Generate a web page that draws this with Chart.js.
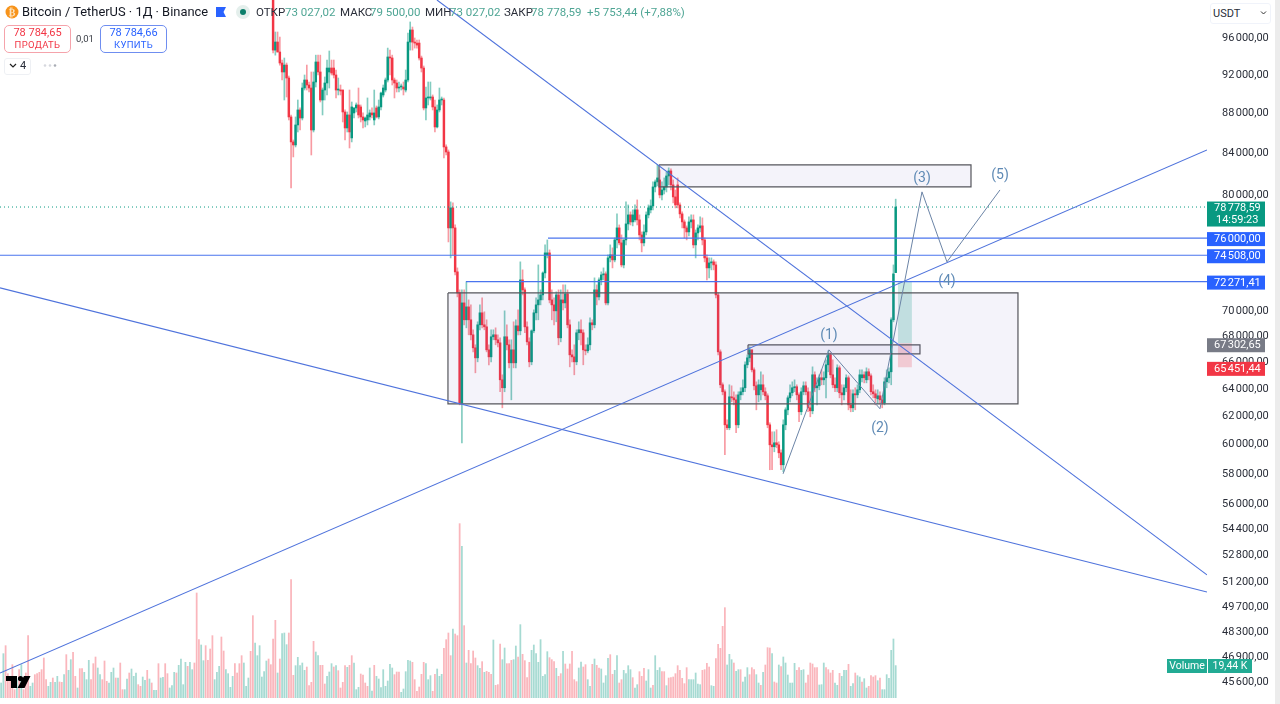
<!DOCTYPE html>
<html lang="ru"><head><meta charset="utf-8">
<script src="https://cdn.jsdelivr.net/npm/chart.js@4/dist/chart.umd.js"></script>
<style>
html,body{margin:0;padding:0;background:#fff;overflow:hidden;width:1280px;height:704px}
body{position:relative;font-family:Roboto,"Noto Sans",sans-serif;color:#131722}
canvas{position:absolute;left:0;top:0;display:block}
.t{position:absolute;white-space:nowrap;line-height:1}
.g{color:#4ea594}.k{color:#2a2e39}
.btn{position:absolute;top:25px;width:65px;border:1px solid;border-radius:5px;background:#fff;text-align:center;font-size:11px;line-height:12px;padding-top:1px;box-sizing:content-box;height:25px}
.btn span{display:block;font-size:9.5px;letter-spacing:.3px}
</style></head><body>
<canvas id="c" width="1280" height="704" style="width:1280px;height:704px"></canvas>
<div style="position:absolute;left:1275px;top:0;width:5px;height:704px;background:#ececec"></div>
<div style="position:absolute;left:1210px;top:3px;width:59px;height:19px;border:1px solid #f0f3fa;border-radius:3px;background:#fff"></div>
<div class="t" style="left:1213px;top:8px;font-size:11px;color:#2a2e39">USDT</div>
<svg style="position:absolute;left:1260px;top:10px" width="7" height="6"><path d="M1 1.5 L3.5 4 L6 1.5" fill="none" stroke="#333" stroke-width="1"/></svg>
<svg style="position:absolute;left:5px;top:5px" width="14" height="14"><circle cx="7" cy="7" r="6.5" fill="#f7931a"/><text x="7" y="10.5" font-size="10" font-weight="700" text-anchor="middle" fill="#fde3bd" font-family="Roboto">₿</text></svg>
<div class="t" style="left:22px;top:6px;font-size:12.9px;color:#131722">Bitcoin / TetherUS · 1Д · Binance</div>
<svg style="position:absolute;left:216px;top:7px" width="11" height="11"><path d="M0 0H10L7.5 5L10 10H0Z" fill="#2962ff"/></svg>
<svg style="position:absolute;left:236px;top:5px" width="14" height="14"><circle cx="7" cy="7" r="7" fill="#e4efec"/><circle cx="7" cy="7" r="3" fill="#0b7f6b"/></svg>
<div class="t k" style="left:256px;top:7px;font-size:11.5px">ОТКР</div>
<div class="t g" style="left:285px;top:7px;font-size:11.5px">73 027,02</div>
<div class="t k" style="left:340px;top:7px;font-size:11.5px">МАКС</div>
<div class="t g" style="left:370px;top:7px;font-size:11.5px">79 500,00</div>
<div class="t k" style="left:425px;top:7px;font-size:11.5px">МИН</div>
<div class="t g" style="left:450px;top:7px;font-size:11.5px">73 027,02</div>
<div class="t k" style="left:504px;top:7px;font-size:11.5px">ЗАКР</div>
<div class="t g" style="left:531px;top:7px;font-size:11.5px">78 778,59</div>
<div class="t g" style="left:587px;top:7px;font-size:11.5px">+5 753,44 (+7,88%)</div>
<div class="btn" style="left:4px;border-color:#f5a3ab;color:#f23645">78 784,65<span>ПРОДАТЬ</span></div>
<div class="t" style="left:76px;top:34px;font-size:9.5px;color:#3c4048">0,01</div>
<div class="btn" style="left:100px;border-color:#6f8ef0;color:#2962ff">78 784,66<span>КУПИТЬ</span></div>
<div style="position:absolute;left:4px;top:58px;width:25px;height:15px;border:1px solid #eef0f4;border-radius:3px"></div>
<svg style="position:absolute;left:9px;top:63px" width="8" height="6"><path d="M1 1 L4 4 L7 1" fill="none" stroke="#222" stroke-width="1.2"/></svg>
<div class="t" style="left:20px;top:60px;font-size:11px;color:#2a2e39">4</div>
<svg style="position:absolute;left:42px;top:63px" width="16" height="5"><circle cx="3" cy="2.5" r="1.3" fill="#d6d8de"/><circle cx="8" cy="2.5" r="1.3" fill="#d6d8de"/><circle cx="13" cy="2.5" r="1.3" fill="#a9acb5"/></svg>
<svg style="position:absolute;left:6px;top:676px" width="25" height="13"><path d="M0 0H11V12H5V5H0Z M18 0H24.5L18.5 12H11.5Z" fill="#000"/><circle cx="14.5" cy="2.6" r="2.6" fill="#000"/></svg>
<script>
const firstCandle = 121;
const opens = [
101000,94450,95335,94240,93050,92090,92830,91450,87425,84935,84640,86620,88135,87320,90400,91240,90715,90400,86120,91030,
93160,92090,89155,90190,90925,92090,92510,92510,91770,90190,90190,90190,87930,86320,87625,85330,87830,88340,88645,88440,
87425,87020,87120,87425,87830,87120,88340,87425,88440,89675,90190,91240,93700,93590,91240,90925,90400,90505,90505,90190,
91240,95335,96670,95335,95220,95220,93590,92510,88340,89365,89365,89465,88440,86420,88135,89155,89155,84445,83955,
76900,78700,76900,73090,71335,62820,70515,69150,70190,69150,67960,66945,66175,68750,69710,68750,68590,66790,66250,67805,
67960,67570,67335,64515,63925,67805,67180,65795,66790,65795,68670,68275,72415,71585,68590,67410,65870,68275,69710,70355,
70760,71170,73000,74540,74710,70760,70355,69870,71170,67725,70760,70515,71255,68750,66405,66250,65870,68120,68355,68120,
66790,66715,67180,68910,68750,71585,71005,72415,72835,72920,70515,74280,74540,74110,75840,76900,75580,73680,75840,77255,
78065,77435,77615,78520,77615,76280,75580,76545,78065,78520,78880,80630,81100,81285,79890,80350,80630,81660,82135,80820,
79705,80820,78970,78155,77435,76900,76545,77435,77615,75405,76455,76900,77080,75840,74280,73425,73850,73940,73680,71170,
66635,64145,63630,61245,61035,63260,63185,63040,61245,63405,63630,63925,65645,66175,66790,65265,64070,63405,63775,64145,
63630,63335,61245,59845,59710,59985,59845,59295,58480,61245,62315,63185,63555,63925,64000,63405,62175,63630,64070,63630,
62460,62245,64890,63925,64070,64665,64515,64665,65645,66405,64890,64145,63925,65415,63555,63405,63925,64665,62675,62460,
63480,63405,63775,64665,64890,64515,65115,64815,63630,63480,63115,63335,63040,62820,64365,64665,65115,69150,73027.02];
const highs = [
101500,96445,96445,95890,93370,93590,93050,91660,87625,85130,87425,89155,88340,90925,91770,92830,91030,92090,92090,93900,
93900,93900,90400,91560,93370,94350,93370,93370,92300,91450,90715,90190,88135,87930,90190,88950,88340,88850,90400,88645,
87830,87425,89365,88135,88340,90190,88540,89155,89985,90715,91450,94670,94450,93900,91450,91240,91030,90820,91030,92300,
96330,97570,97000,95780,95560,95560,93800,92730,90505,91030,91030,89675,89155,88645,90400,89465,89365,84640,84150,
79250,79155,77165,73425,71585,71585,71585,72250,70760,70355,68355,67180,68990,70355,70925,69790,69150,67180,68355,68355,
68510,67960,67725,64890,69870,68750,67570,67570,68990,69150,69950,73940,73260,71750,68990,67725,68355,69950,70925,73680,
71585,73090,75405,75840,74970,71585,70925,71420,71585,71585,72000,72000,71585,69150,66790,67180,68355,68990,69150,68355,
67180,67725,69310,69150,72585,72000,72585,73090,73425,73090,74540,75405,75145,76015,78155,77165,76280,75840,79250,78970,
78335,78520,78970,79430,78065,76545,77165,78335,78970,79430,81100,81285,82710,82230,81100,81475,82040,82425,82330,81285,
80350,81475,79155,78335,77615,77080,77885,78065,78065,76720,77165,77885,77795,76015,74540,74280,74280,74110,73940,71335,
66790,64290,63775,61600,64145,64070,63630,63405,63630,63925,64515,65870,66405,67025,66790,65415,64365,64515,65115,64890,
63925,63480,61390,60755,60755,60895,60055,59505,61600,62460,63335,64145,64365,64515,64145,63555,63925,64365,64365,63925,
63630,65490,65115,64665,64890,65265,65115,66025,66715,66560,66025,64665,65645,65565,64145,64145,64890,64815,63775,63775,
63925,64145,65265,65265,65115,65415,65340,64965,64145,63775,63775,63630,63335,64665,65265,65415,69310,73680,79500];
const lows = [
94130,93900,94240,92830,91240,89155,89465,87120,80540,83475,84445,85920,86120,87120,90190,90190,89985,83665,85920,90505,
91770,88950,87625,89155,89675,90400,91770,91450,89365,89675,89675,86920,85130,85920,84345,84935,87320,87930,87320,86920,
86320,86420,86620,87120,87320,86620,87320,87220,88135,89465,89985,91030,91770,90715,89365,89985,89985,90190,89675,89985,
91030,94450,94450,94670,94670,93370,92090,88135,87120,88645,89155,88135,85920,86320,87930,88645,83380,83665,75665,
74280,74540,72835,71005,62675,59985,68750,68510,67960,67570,66635,65040,65870,68355,68510,68355,66635,65645,65870,67570,
67180,67025,63630,62460,63630,66790,65415,63040,65415,65415,67960,67960,71170,68120,67180,65490,65645,68120,69150,69150,
70355,70760,72585,74280,70515,69150,68750,68990,67180,67410,69950,70110,68510,65490,65870,64890,65645,67570,67180,65645,
66405,66560,66790,68355,68510,70355,70760,72000,72415,70355,70355,73940,73425,73940,75145,75405,73510,73425,75405,76720,
77165,77080,77435,77165,75840,74800,75320,76280,77795,78245,78520,80165,80725,79615,79430,79980,80165,80820,80350,79155,
78700,78700,77795,76900,76015,75840,76190,76900,75145,74280,75840,76545,75405,73940,72415,72585,73260,73260,70925,66405,
63925,63405,59160,60895,60895,62895,62675,60685,61035,63040,63405,63630,65415,65870,65115,63775,62315,62895,63040,63405,
63040,61035,58145,58145,59365,59640,58955,58145,58010,60895,61960,62895,63335,63630,63040,61460,61960,63405,63405,62175,
61815,62030,63630,62675,63775,64145,64145,63185,65115,64665,63925,63630,63630,63185,62675,63040,63630,62315,62175,62175,
62315,63185,63555,64365,64290,64290,64515,63405,63185,62675,62750,62750,62460,62675,63925,64290,64145,68990,73027.02];
const closes = [
94450,95335,94240,93050,92090,92830,91450,87425,84935,84640,86620,88135,87320,90400,91240,90715,90400,86120,91030,93160,
92090,89155,90190,90925,92510,92510,91980,91770,90190,90290,90090,87930,86320,87625,85920,88440,88340,88645,87625,87425,
87120,87320,87625,87830,87625,87830,87425,88440,89880,90400,91240,93700,93590,91240,90925,90400,90505,90610,90295,91240,
95335,96670,95335,95220,95000,93590,92510,88340,89365,89465,89465,88440,86420,88135,89155,89155,84445,83955,76900,
78700,76900,73090,71335,62820,70515,69150,70190,69150,67960,66945,66175,68750,69710,68750,68590,66790,66250,67805,67960,
67570,67335,64515,63925,67805,67180,65795,66790,65795,68670,68275,72415,71585,68590,67410,65870,68275,69710,70355,70760,
71170,73000,74710,74710,70760,70355,69870,71170,67725,70760,70515,71255,68750,66405,66250,65870,68120,68355,68120,66790,
66715,67180,68910,68750,71585,71005,72415,72835,72920,70515,74280,74540,74110,75840,76900,75580,73680,75840,77255,78065,
77435,78065,78520,77615,76280,75580,76545,78065,78700,78880,80630,81100,81475,79890,80350,80630,81660,82135,80820,79705,
78970,78970,78155,77435,76900,76545,77435,77615,75405,76455,76900,77080,75840,74280,73425,73850,73940,73680,71170,66635,
64145,63630,61245,61035,63260,63185,63040,61245,63405,63630,63925,65645,66175,66790,65265,64070,63405,64145,64145,63630,
63335,61245,59845,59710,59985,59845,59295,58480,61245,62315,63185,63555,63925,64000,63405,62175,63630,64070,63630,62460,
62245,64890,63925,64070,64665,64515,64665,65645,66405,64890,64145,63925,65415,63555,63405,63925,64665,62675,62460,63480,
63405,63775,64890,64890,64665,65115,64815,63630,63480,63185,63335,63040,62820,64365,64665,65115,69150,72920,78778.59];
const volumes = [
9,26.6,31.4,14.6,11,20,5,11,17,20,
5,15,37.4,7,9,14,14.6,15.4,17,24,
11,7,9.4,12,9.4,13,9.6,9.4,14,26,
16.6,23,27.4,13,6,17.6,17.6,15.4,11,
22.6,11,20.6,24.6,18,14,11,22.2,10,9,
15.4,18,12,12,21,5,5,11.4,15,17.4,
13,15,8,7,12.6,10.6,16.6,11.4,9,4.6,
4.6,20.6,12,12.4,20.6,14.6,6,7.4,15.4,15,
19.6,23.4,8,21.4,19,21.4,17,21,63,
35,31.8,22.4,31.4,22.6,29.4,37.4,11,15.4,19,
36.6,28.2,17,14.6,6.4,13,20.6,15,20.6,25.4,
21,7,12,28,49.4,33,25.4,31.4,12.6,15.8,
22.2,23.4,20,35.4,46.6,15,23.4,38.6,39,32,
39,71,13.6,19.4,24.4,
19.4,21,16.6,18.6,7.4,9.4,34,27.6,25.4,19.6,
19.6,8.4,13,15.6,20.6,18.6,19.4,16.4,6,9.4,
19.4,18.4,19.6,25.4,21,5,6.4,14.4,13.8,9,
7,18,4.2,19.6,13,11.4,6.2,17,7,
10.2,20.2,18,14,15.6,15.6,3.4,5.4,15.8,22.6,
22.2,21.4,11,4,6.6,14.2,21.4,20.6,11,13.4,
4,14.2,17.4,13,14.2,29.8,35,39,25.4,41.4,
38.4,37.4,104.6,91,43.4,21,28.6,20.6,28.2,24,
19.4,17.8,21.8,15.4,16,15.4,14.2,34.8,7.6,8,
32.4,23,30,20.6,20.6,22.6,23,31.2,24.6,44,
26.2,22.4,12.2,21.4,28.6,31.8,26.6,21.4,35,13,
14,27.8,24.2,23,21.8,17.8,13,14.6,28,20.4,
17.4,20.4,28,11,9.8,18,21.6,18.6,20,11,
7,20.2,23.4,19.6,18,
17.4,9,13.4,23.8,26,14.2,16.6,25.4,9,11,
16.6,14.6,19.4,17,12.2,6,8,15.8,13,17.8,
10.2,17,6,7.6,25.4,16.6,18.2,15.8,15.8,7.4,
12,12.2,12.6,14.6,19.4,16.6,11.8,8.6,18.2,11,
11,11,15,8.4,8,16.6,17,20.8,18.6,
7.4,7,23.6,32.2,29.8,43,54.2,19.8,26.2,23,
21,16,17,17,9.6,12.6,18.2,14,18.2,17,
14,9,7.6,15.4,19.8,30.2,30,26.6,9.6,9,
19.8,18.8,24.6,21,13.8,9,9,20.8,16.6,18.2,
16.6,17,9,13.8,21,20.4,18.2,18.2,7.8,
8,21,18.2,17,15,16.6,9,7.6,14.8,13,
16.6,16.6,20.2,7,8.6,15,13.4,12.6,9.6,11.6,
6,7,13.4,12.6,13.4,10.4,12,5,5,14,
11.8,28.6,35.4,19.44];
const volumeDirs = "ggrrrrrgrg"+"rrrggrrrrr"+"rggrggrrgr"+"ggrrgrrgg"+"grrrggrrrg"+"ggrgrrggrg"+"ggrrggrgrg"+"grggrrgggr"+"ggggrggrr"+"rggrrrrggg"+"rrggggrrrr"+"gggrrggggg"+"grrrrgrggg"+"rrrgg"
+"gggrrrrggr"+"rrgggrgrrr"+"rgrrgggrrr"+"rggrggggg"+"gggrrrgggg"+"grrrrrrggg"+"rrgggrrrrg"+"rrrgrgrrrr"+"ggrgrrrgrr"+"rggrrrggrg"+"rrrrgggggg"+"ggrrrgrrgr"+"rrrrrggrrg"+"grgrr"
+"ggggrrggrr"+"ggggrggrrr"+"gggrgggrrg"+"rrrrrrrrrg"+"gggggrrrr"+"ggrrrrrggg"+"rggrgggrrr"+"ggrgrrrgrr"+"grggggggrr"+"ggrrrrrrg"+"ggrrrrggrg"+"ggrggrggrg"+"grrrrgrggg"+"gggg";
const priceTicks = [96000,92000,88000,84000,80000,70000,68000,66000,64000,62000,60000,58000,56000,54400,52800,51200,49700,48300,46900,45600];
const lastPrice = 78778.59, level1 = 76000, level2 = 74508, level3 = 72271.41, stopTag = 67302.65, lossTag = 65451.44;
const risingLine = [{x:-0.5,y:45970},{x:536.5,y:84150}];
const fallingLine = [{x:-0.5,y:71750},{x:536.5,y:50480}];
const steepLine = [{x:193.9,y:100080},{x:536.5,y:51490}];
const waveLine = [{x:347.9,y:57870},{x:368.3,y:66790},{x:391,y:62390},{x:409.7,y:80170},{x:420.8,y:73940},{x:444.4,y:80350}];
const waveLabels = ["(1)","(2)","(3)","(4)","(5)"];
const waveLabelX = [368.3,391,409.7,420.8,444.4];
const waveLabelY = [67900,60950,81450,72250,81700];
const zoneTop = {xFrom:292.7,xTo:431.5,high:82710,low:80630};
const zoneMain = {xFrom:198.8,xTo:452.4,high:71335,low:62750};
const zoneSmall = {xFrom:332.3,xTo:408.8,high:67180,low:66480};

const SLOTS = 537, LAST = 398;
const fmt = v => { const s = v.toFixed(2).split("."); return s[0].replace(/\B(?=(\d{3})+$)/g,"\u202f")+","+s[1]; };
const rect = (a,b,hi,lo)=>[{x:a,y:hi},{x:b,y:hi},{x:b,y:lo},{x:a,y:lo},{x:a,y:hi}];
const idx = j => firstCandle + j;
const UP="#089981", DN="#f23645";
const upAt = j => closes[j] >= opens[j];
const bodies = closes.map((c,j)=>({x:idx(j),y:[opens[j],c]}));
const wicks = closes.map((c,j)=>({x:idx(j),y:[lows[j],highs[j]]}));
const vols = volumes.map((v,j)=>({x:LAST-(volumes.length-1-j),y:v}));

const base = {pointRadius:0,pointHoverRadius:0,borderWidth:1,tension:0,fill:false,xAxisID:'x',yAxisID:'y'};
const shape = (pts,bg,bc)=>({type:'line',...base,data:pts,fill:'shape',backgroundColor:bg,borderColor:bc,order:3,borderWidth:bc==='transparent'?0:1.2});
const hline = (a,b,v)=>({type:'line',...base,data:[{x:a,y:v},{x:b,y:v}],borderColor:'#4a74ee',borderWidth:1.1,order:1});

const tags = {
 id:'tags',
 afterDraw(c){
  const g=c.ctx,y=c.scales.y,x=c.scales.x;
  g.save();
  g.textBaseline='middle';g.textAlign='center';g.fillStyle='#5f8ab5';g.font='14px Roboto, sans-serif';
  waveLabels.forEach((t,j)=>g.fillText(t,x.getPixelForValue(waveLabelX[j]),y.getPixelForValue(waveLabelY[j])));
  const box=(v,col,txt,dy=1)=>{const p=y.getPixelForValue(v)+dy;g.fillStyle=col;g.fillRect(1207,p-7,58,14);g.fillStyle='#fff';g.textAlign='left';g.font='11px Roboto, sans-serif';g.fillText(txt,1214,p+.5);};
  const p=y.getPixelForValue(lastPrice)+1;
  g.fillStyle='#089981';g.fillRect(1207,p-6.5,58,25);g.fillStyle='#fff';g.textAlign='left';g.font='11px Roboto, sans-serif';
  g.fillText(fmt(lastPrice),1214,p+.5);g.fillText('14:59:23',1216,p+12.5);
  box(level1,'#2962ff',fmt(level1));box(level2,'#2962ff',fmt(level2));box(level3,'#2962ff',fmt(level3));
  box(stopTag,'#787b86',fmt(stopTag),2);box(lossTag,'#f23645',fmt(lossTag),1.5);
  g.fillStyle='#22ab94';g.fillRect(1167,659,40,14);g.fillRect(1208,659,44,14);
  g.fillStyle='#fff';g.font='10.5px Roboto, sans-serif';g.textAlign='center';g.fillText('Volume',1187,666.5);g.fillText('19,44 K',1230,666.5);
  g.restore();
 }
};

new Chart(document.getElementById('c'),{
 data:{datasets:[
  {type:'line',...base,data:risingLine,borderColor:'#4f73dc',borderWidth:1.1,order:1},
  {type:'line',...base,data:fallingLine,borderColor:'#4f73dc',borderWidth:1.1,order:1},
  {type:'line',...base,data:steepLine,borderColor:'#4f73dc',borderWidth:1.1,order:1},
  {type:'line',...base,data:waveLine,borderColor:'#6b84a6',borderWidth:1,order:1},
  hline(243.3,536.5,level1),
  hline(-0.5,536.5,level2),
  hline(206.8,536.5,level3),
  {type:'line',...base,data:[{x:-0.5,y:lastPrice},{x:536.5,y:lastPrice}],borderColor:'#089981',borderWidth:1,borderDash:[1,3],order:2},
  shape(rect(zoneTop.xFrom,zoneTop.xTo,zoneTop.high,zoneTop.low),'rgba(103,80,190,.07)','#55565c'),
  shape(rect(zoneMain.xFrom,zoneMain.xTo,zoneMain.high,zoneMain.low),'rgba(103,80,190,.07)','#55565c'),
  shape(rect(zoneSmall.xFrom,zoneSmall.xTo,zoneSmall.high,zoneSmall.low),'rgba(103,80,190,.07)','#55565c'),
  shape(rect(399,405.2,level3,stopTag),'rgba(8,153,129,.22)','transparent'),
  shape(rect(399,405.2,stopTag,lossTag),'rgba(242,54,69,.22)','transparent'),
  {type:'bar',data:bodies,xAxisID:'x',yAxisID:'y',grouped:false,barThickness:1.8,minBarLength:1,order:5,
   backgroundColor:closes.map((c,j)=>upAt(j)?UP:DN)},
  {type:'bar',data:wicks,xAxisID:'x',yAxisID:'y',grouped:false,barThickness:1,order:6,
   backgroundColor:closes.map((c,j)=>upAt(j)?'rgba(8,153,129,.5)':'rgba(242,54,69,.5)')},
  {type:'bar',data:vols,xAxisID:'x',yAxisID:'y2',grouped:false,barThickness:1.1,order:7,
   backgroundColor:volumes.map((v,j)=>volumeDirs[j]==='g'?'rgba(8,153,129,.36)':'rgba(242,54,69,.36)')}
 ]},
 options:{
  responsive:false,animation:false,
  layout:{autoPadding:false,padding:{left:0,right:0,top:0,bottom:6}},
  plugins:{legend:{display:false},tooltip:{enabled:false}},
  events:[],
  scales:{
   x:{type:'linear',display:false,offset:false,min:-0.5,max:SLOTS-0.5,grid:{display:false}},
   y:{type:'logarithmic',position:'right',min:44660,max:100080,
      grid:{display:false},border:{display:false},
      afterFit(s){s.width=73;s.paddingTop=0;s.paddingBottom=0;},
      afterBuildTicks(s){s.ticks=priceTicks.map(v=>({value:v}));},
      ticks:{autoSkip:false,padding:7,labelOffset:2,color:'#2a2e39',font:{family:'Roboto',size:11},callback:v=>fmt(v),maxRotation:0}},
   y2:{type:'linear',display:false,min:0,max:418.8,grid:{display:false}}
  }
 },
 plugins:[tags]
});
</script>
</body></html>
